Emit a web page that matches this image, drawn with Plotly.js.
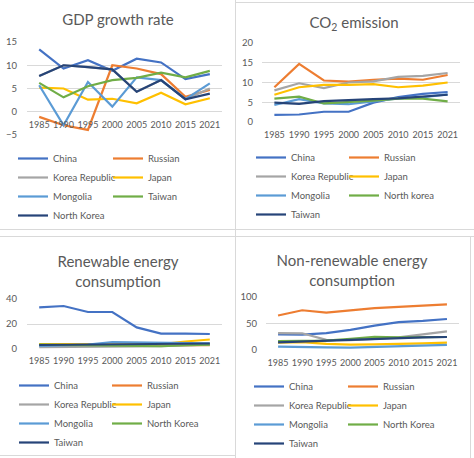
<!DOCTYPE html>
<html><head><meta charset="utf-8">
<script src="https://cdn.plot.ly/plotly-3.0.1.min.js"></script>
<style>
html,body{margin:0;padding:0;background:#fff;width:474px;height:458px;overflow:hidden;position:relative;}
.p{position:absolute;}
.b{position:absolute;background:#d9d9d9;}
</style></head><body>
<div class="b" style="left:235px;top:0;width:1px;height:458px"></div>
<div class="b" style="left:0;top:229px;width:474px;height:1px"></div>
<div class="b" style="left:0;top:236px;width:474px;height:1px"></div>
<div class="b" style="left:235px;top:2px;width:239px;height:1px"></div>
<div class="b" style="left:0;top:455px;width:235px;height:1px"></div>
<div class="b" style="left:470px;top:236px;width:1px;height:222px"></div>
<div id="gdp" class="p" style="left:0;top:0;width:235px;height:229px"></div>
<div id="co2" class="p" style="left:236px;top:3px;width:234px;height:226px"></div>
<div id="ren" class="p" style="left:0;top:237px;width:235px;height:218px"></div>
<div id="nonren" class="p" style="left:236px;top:237px;width:234px;height:221px"></div>
<script>
// ---------- data ----------
const years = ['1985','1990','1995','2000','2005','2010','2015','2021'];
const colors = ['#4472C4','#ED7D31','#A5A5A5','#FFC000','#5B9BD5','#70AD47','#264478'];

// GDP growth rate
const gdpNames = ['China','Russian','Korea Republic','Japan','Mongolia','Taiwan','North Korea'];
const gdpChina    = [13.4, 9.3, 11.1, 8.8, 11.4, 10.6, 7.0, 8.1];
const gdpRussian  = [-1.1, -2.9, -3.9, 10.0, 9.3, 8.1, 3.2, 4.7];
const gdpKorea    = [7.7, 10.0, 9.6, 9.1, 4.3, 6.8, 2.7, 5.0];
const gdpJapan    = [5.2, 5.0, 2.6, 2.8, 1.8, 4.1, 1.6, 2.9];
const gdpMongolia = [5.7, -2.9, 6.4, 1.1, 7.4, 6.8, 2.7, 6.1];
const gdpTaiwan   = [6.2, 3.1, 5.5, 6.8, 7.3, 8.4, 7.4, 8.8];
const gdpNKorea   = [7.7, 10.0, 9.6, 9.1, 4.3, 6.8, 2.7, 3.9];

// CO2 emission
const co2Names = ['China','Russian','Korea Republic','Japan','Mongolia','North korea','Taiwan'];
const co2China    = [1.8, 1.9, 2.6, 2.6, 4.9, 6.3, 7.1, 7.6];
const co2Russian  = [8.8, 14.7, 10.5, 10.2, 10.7, 11.0, 10.7, 11.9];
const co2Korea    = [8.0, 9.8, 8.6, 10.0, 10.3, 11.4, 11.7, 12.4];
const co2Japan    = [6.9, 8.8, 9.4, 9.4, 9.6, 8.8, 9.2, 10.0];
const co2Mongolia = [4.3, 5.8, 4.7, 4.5, 5.2, 6.0, 6.3, 7.0];
const co2NKorea   = [5.9, 6.4, 4.7, 5.0, 5.4, 5.9, 5.9, 5.2];
const co2Taiwan   = [4.9, 4.6, 5.3, 5.6, 5.8, 6.0, 6.4, 6.9];

// Renewable energy consumption
const renNames = ['China','Russian','Korea Republic','Japan','Mongolia','North Korea','Taiwan'];
const renChina    = [33.3, 34.4, 29.6, 29.6, 17.3, 12.3, 12.3, 12.0];
const renRussian  = [2.5, 2.6, 2.4, 2.3, 2.4, 2.5, 2.8, 3.0];
const renKorea    = [1.5, 1.5, 1.5, 1.8, 2.0, 2.2, 2.8, 3.5];
const renJapan    = [4.0, 4.3, 4.0, 3.8, 3.6, 4.0, 6.0, 7.6];
const renMongolia = [2.5, 2.8, 3.5, 5.6, 5.2, 5.0, 4.8, 4.5];
const renNKorea   = [3.5, 3.2, 2.5, 2.2, 2.0, 2.2, 3.0, 3.5];
const renTaiwan   = [3.2, 3.4, 3.6, 4.0, 4.2, 4.3, 4.3, 4.4];

// Non-renewable energy consumption
const nonNames = ['China','Russian','Korea Republic','Japan','Mongolia','North Korea','Taiwan'];
const nonChina    = [29.5, 29.0, 32.0, 38.0, 46.0, 52.5, 55.0, 58.5];
const nonRussian  = [65.0, 75.0, 70.5, 74.5, 79.0, 81.5, 84.0, 86.0];
const nonKorea    = [32.0, 31.5, 19.0, 18.8, 21.0, 24.0, 29.5, 35.0];
const nonJapan    = [14.0, 15.0, 11.5, 10.0, 10.5, 11.0, 12.5, 13.8];
const nonMongolia = [6.3, 6.3, 5.0, 4.4, 5.5, 6.8, 8.0, 9.5];
const nonNKorea   = [17.0, 17.5, 17.8, 21.0, 25.0, 24.0, 24.0, 24.5];
const nonTaiwan   = [14.2, 16.0, 17.5, 18.8, 21.0, 22.5, 24.0, 24.5];

// ---------- drawing ----------
const FONT = 'Lato, Carlito, Calibri, "Liberation Sans", sans-serif';
const TXT = '#595959';

function panel(id, o){
  const W = o.W, H = o.H, l = o.l, r = o.r, t = o.t, b = o.b;
  const traces = o.series.map((s, i) => ({
    type: 'scatter', mode: 'lines', x: years, y: s, name: o.names[i],
    line: {color: colors[i], width: 2.2},
    legend: (i % 2 === 0) ? 'legend' : 'legend2'
  }));
  const leg = (xpx) => ({
    x: xpx / W, y: 1 - o.legTop / H, xref: 'container', yref: 'container',
    xanchor: 'left', yanchor: 'top',
    orientation: 'v', bgcolor: 'rgba(0,0,0,0)', borderwidth: 0,
    font: {family: FONT, size: 9.5, color: TXT}, tracegroupgap: 0, itemwidth: 30
  });
  const xaxis = {
    type: 'category', range: [-0.5, 7.5], showgrid: false, zeroline: false,
    showline: false, ticks: '', tickangle: 0, automargin: false,
    tickfont: {family: FONT, size: 9, color: TXT},
    ticklabelstandoff: o.xstand
  };
  if (o.xpos !== undefined) { xaxis.anchor = 'free'; xaxis.position = o.xpos; }
  const layout = {
    width: W, height: H, margin: {l, r, t, b, pad: 0, autoexpand: false},
    paper_bgcolor: 'rgba(0,0,0,0)', plot_bgcolor: 'rgba(0,0,0,0)',
    font: {family: FONT, color: TXT},
    title: {text: o.title, font: {family: FONT, size: 15, color: TXT},
      x: o.titleX / W, xanchor: 'center', xref: 'container',
      y: 1 - o.titleY / H, yanchor: 'middle', yref: 'container'},
    xaxis: xaxis,
    yaxis: {range: o.yrange, dtick: o.dtick, tick0: 0, showgrid: true, gridcolor: '#d9d9d9',
      gridwidth: 1, zeroline: false, showline: false, ticks: '', automargin: false,
      tickfont: {family: FONT, size: 9.5, color: TXT}, ticklabelstandoff: o.ystand, fixedrange: true},
    showlegend: true,
    legend: leg(o.leg1),
    legend2: leg(o.leg2)
  };
  Plotly.newPlot(id, traces, layout, {staticPlot: true, displayModeBar: false});
}

panel('gdp', {
  W: 235, H: 229, l: 27, r: 13, t: 42, b: 94,
  yrange: [-5, 15], dtick: 5, xpos: 0.25, xstand: 6, ystand: 9,
  title: 'GDP growth rate', titleX: 118, titleY: 20,
  names: gdpNames,
  series: [gdpChina, gdpRussian, gdpKorea, gdpJapan, gdpMongolia, gdpTaiwan, gdpNKorea],
  legTop: 144, leg1: 13, leg2: 108
});

panel('co2', {
  W: 234, H: 226, l: 26, r: 10, t: 40, b: 107,
  yrange: [0, 20], dtick: 5, xstand: 6, ystand: 8,
  title: 'CO<sub>2</sub> emission', titleX: 118, titleY: 20,
  names: co2Names,
  series: [co2China, co2Russian, co2Korea, co2Japan, co2Mongolia, co2NKorea, co2Taiwan],
  legTop: 140, leg1: 15, leg2: 108
});

panel('ren', {
  W: 235, H: 218, l: 27, r: 13, t: 62, b: 106,
  yrange: [0, 40], dtick: 20, xstand: 5, ystand: 9,
  title: 'Renewable energy<br>consumption', titleX: 118, titleY: 30,
  names: renNames,
  series: [renChina, renRussian, renKorea, renJapan, renMongolia, renNKorea, renTaiwan],
  legTop: 134, leg1: 14, leg2: 107
});

panel('nonren', {
  W: 234, H: 221, l: 30, r: 11, t: 60, b: 108,
  yrange: [0, 100], dtick: 50, xstand: 6, ystand: 8,
  title: 'Non-renewable energy<br>consumption', titleX: 116, titleY: 29,
  names: nonNames,
  series: [nonChina, nonRussian, nonKorea, nonJapan, nonMongolia, nonNKorea, nonTaiwan],
  legTop: 135, leg1: 13, leg2: 107
});
</script>
</body></html>
